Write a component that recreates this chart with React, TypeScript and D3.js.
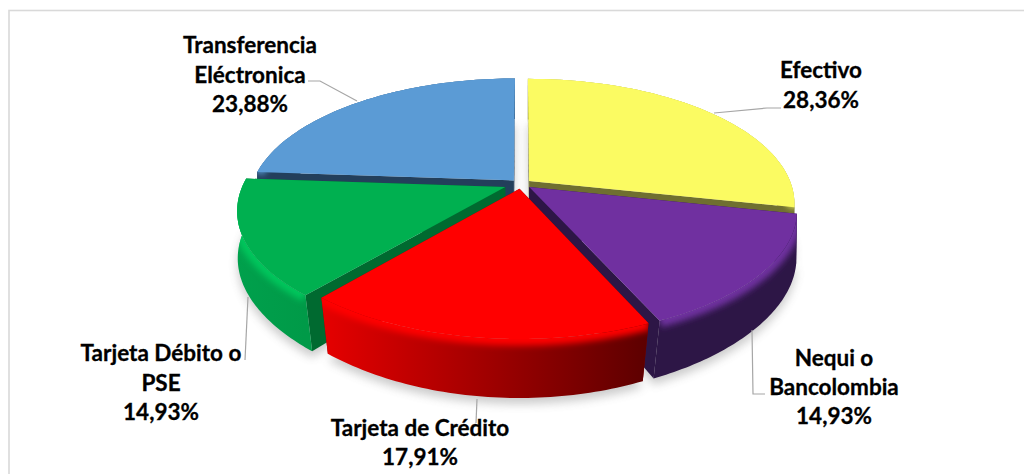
import React from "react";
import * as d3 from "d3";

const categories = ["Efectivo", "Nequi o Bancolombia", "Tarjeta de Crédito", "Tarjeta Débito o PSE", "Transferencia Eléctronica"];
const values = [28.36, 14.93, 17.91, 14.93, 23.88];
const valueLabels = ["28,36%", "14,93%", "17,91%", "14,93%", "23,88%"];
const explosions = [0.04, 0.04, 0.04, 0.065, 0.04];
const faceColors = ["#fbfb62", "#7030a0", "#ff0000", "#00b050", "#5b9bd5"];
const cutColors = ["#6f6f30", "#2d1646", "#800000", "#006a30", "#233f5b"];
const rimColors = ["#fbfb62", "#7030a0", "#ff0000", "#00c65c", "#5b9bd5"];
const wallStops = [
  ["#80802f", "#6f6f30"],
  ["#2d1646", "#2d1646"],
  ["#e60000", "#5c0000"],
  ["#00a04c", "#009a48"],
  ["#233f5b", "#233f5b"],
];
const paintOrder = [4, 0, 3, 1, 2];

const labelLines = [
  ["Efectivo", "28,36%"],
  ["Nequi o", "Bancolombia", "14,93%"],
  ["Tarjeta de Crédito", "17,91%"],
  ["Tarjeta Débito o", "PSE", "14,93%"],
  ["Transferencia", "Eléctronica", "23,88%"],
];
const labelPlace = [
  { x: 821, y: 78, dy: 30 },
  { x: 834, y: 366, dy: 29 },
  { x: 420, y: 436, dy: 29 },
  { x: 161, y: 361, dy: 29.5 },
  { x: 250, y: 53, dy: 29.5 },
];
const leaderLines: [number, number][][] = [
  [[714, 113], [767, 108], [781, 108]],
  [[752, 330], [753, 394], [765, 394]],
  [[477, 399], [476, 423]],
  [[248, 297], [245, 360]],
  [[308, 81], [320, 81], [357, 101]],
];

const CX = 521, CY = 184, RX = 262, RY = 121.4, K = 0.179, H = 48, TAPER = 0.05;

function project(X: number, Y: number, Z: number): [number, number] {
  const w = 1 - K * Y;
  const front = Math.max(0, Y);
  return [CX + ((RX * X) / w) * (1 + TAPER * front * front * Z), CY + (RY * Y - H * Z) / w];
}

export default function App() {
  const pie = d3.pie<number>().sort(null).startAngle(0).endAngle(2 * Math.PI)(values);
  const line = d3.line<[number, number]>();

  const slices = pie.map((p, i) => {
    const mid = (p.startAngle + p.endAngle) / 2;
    const e = explosions[i];
    const ox = e * Math.sin(mid), oy = -e * Math.cos(mid);
    const thetas = d3.range(0, 61).map(t => d3.scaleLinear().domain([0, 60]).range([p.startAngle, p.endAngle])(t));
    const at = (t: number, z: number) => project(ox + Math.sin(t), oy - Math.cos(t), z);
    const apexTop = project(ox, oy, 0);
    const apexBot = project(ox, oy, -1);
    const rimTop = thetas.map(t => at(t, 0));
    const rimBot = thetas.map(t => at(t, -1));
    const face = line([apexTop, ...rimTop])! + "Z";
    const wall = line([...rimTop, ...[...rimBot].reverse()])! + "Z";
    const cut1 = line([apexTop, rimTop[0], rimBot[0], apexBot])! + "Z";
    const cut2 = line([apexTop, rimTop[60], rimBot[60], apexBot])! + "Z";
    const xs = rimTop.map(d => d[0]);
    return { i, face, wall, cut1, cut2, rim: line(rimTop)!, bottom: line([apexBot, ...rimBot])! + "Z", x0: d3.min(xs)!, x1: d3.max(xs)! };
  });

  const ordered = paintOrder.map(i => slices[i]);

  return (
    <svg width={1024} height={474} viewBox="0 0 1024 474" style={{ position: "absolute", left: 0, top: 0, background: "#fff" }}>
      <defs>
        <filter id="shadow" x="-20%" y="-20%" width="140%" height="140%"><feGaussianBlur stdDeviation="5" /></filter>
        <filter id="rimBlur" x="-20%" y="-50%" width="140%" height="200%"><feGaussianBlur stdDeviation="3" /></filter>
        {slices.map(s => (
          <linearGradient key={s.i} id={`wall${s.i}`} gradientUnits="userSpaceOnUse" x1={s.x0} x2={s.x1} y1={0} y2={0}>
            <stop offset="0" stopColor={wallStops[s.i][0]} />
            <stop offset="1" stopColor={wallStops[s.i][1]} />
          </linearGradient>
        ))}
        {slices.map(s => (
          <clipPath key={s.i} id={`clip${s.i}`}><path d={s.wall} /></clipPath>
        ))}
      </defs>
      <rect x={9} y={10.5} width={1030} height={480} fill="#fff" stroke="#d9d9d9" strokeWidth={1.6} />
      <g filter="url(#shadow)" transform="translate(0,6)" opacity={0.3}>
        {slices.map(s => <path key={s.i} d={s.bottom} fill="#555" />)}
      </g>
      <g filter="url(#shadow)" opacity={0.17}>
        <path d={slices[0].cut1} fill="#555" />
      </g>
      {ordered.map(s => (
        <g key={s.i}>
          <path d={s.cut1} fill={cutColors[s.i]} />
          <path d={s.cut2} fill={cutColors[s.i]} />
          <path d={s.wall} fill={`url(#wall${s.i})`} />
          <g clipPath={`url(#clip${s.i})`}>
            <path d={s.rim} fill="none" stroke={rimColors[s.i]} strokeWidth={13} filter="url(#rimBlur)" />
          </g>
          <path d={s.face} fill={faceColors[s.i]} />
        </g>
      ))}
      <g fill="none" stroke="#a6a6a6" strokeWidth={1.2}>
        {leaderLines.map((l, i) => <path key={i} d={line(l)!} />)}
      </g>
      <g fontFamily="Lato, sans-serif" fontWeight={700} fontSize={22.5} fill="#000" stroke="#000" strokeWidth={0.3} textAnchor="middle">
        {labelLines.map((ls, i) => ls.map((t, j) => (
          <text key={`${i}-${j}`} x={labelPlace[i].x} y={labelPlace[i].y + j * labelPlace[i].dy}>{t}</text>
        )))}
      </g>
    </svg>
  );
}
